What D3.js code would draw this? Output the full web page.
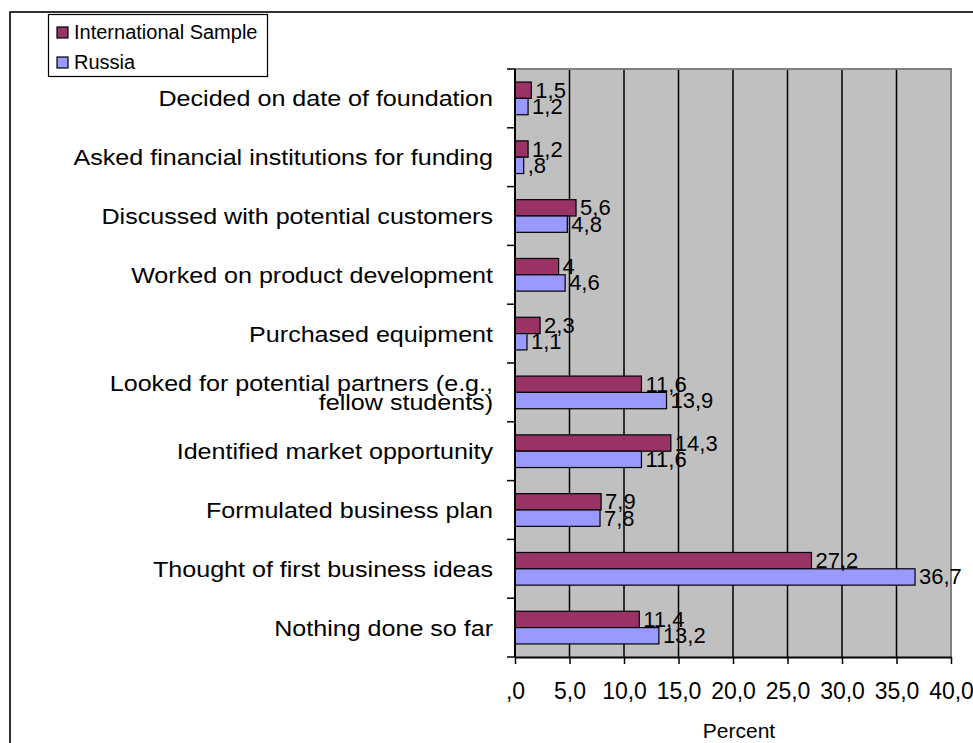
<!DOCTYPE html>
<html>
<head>
<meta charset="utf-8">
<script src="https://cdn.jsdelivr.net/npm/d3@7"></script>
<style>
  body { margin: 0; background: #fff; }
  svg { display: block; font-family: "Liberation Sans", Arial, sans-serif; }
</style>
</head>
<body>
<svg id="chart"></svg>
<script>
//DATA (top to bottom as shown)
const categories = [
  ['Decided on date of foundation'],
  ['Asked financial institutions for funding'],
  ['Discussed with potential customers'],
  ['Worked on product development'],
  ['Purchased equipment'],
  ['Looked for potential partners (e.g.,', 'fellow students)'],
  ['Identified market opportunity'],
  ['Formulated business plan'],
  ['Thought of first business ideas'],
  ['Nothing done so far']
];
const seriesNames = ['International Sample', 'Russia'];
const international = [1.5, 1.2, 5.6, 4, 2.3, 11.6, 14.3, 7.9, 27.2, 11.4];
const russia = [1.2, 0.8, 4.8, 4.6, 1.1, 13.9, 11.6, 7.8, 36.7, 13.2];
const xTicks = [0, 5, 10, 15, 20, 25, 30, 35, 40];
const colors = ['#993366', '#9999ff'];

// comma decimals, leading zero dropped like the original (",8", ",0")
function commaFmt(v, fixed) {
  let s = fixed ? v.toFixed(1) : String(v);
  return s.replace('.', ',').replace(/^0,/, ',');
}

function makeChart() {
  let w = 973;
  let h = 743;

  let margin = {left: 515, right: 22, top: 69, bottom: 86};

  let svg = d3.select('#chart')
    .attr('width', w)
    .attr('height', h);

  //outer frame, right and bottom sides fall outside the picture
  svg.append('rect')
    .attr('x', 10).attr('y', 12)
    .attr('width', 1100).attr('height', 900)
    .attr('fill', 'none')
    .attr('stroke', '#000')
    .attr('stroke-width', 1.6);

  let xScale = d3.scaleLinear()
    .domain([0, 40])
    .range([margin.left, w - margin.right]);

  let ids = categories.map((d, i) => i);
  let yScale = d3.scaleBand()
    .domain(ids)
    .range([margin.top, h - margin.bottom]);

  // two bars inside each band
  let ySub = d3.scaleBand()
    .domain([0, 1])
    .range([0, yScale.bandwidth()])
    .paddingInner(0)
    .paddingOuter(0.8);

  let x0 = xScale(0), x1 = xScale(40);
  let y0 = yScale.range()[0], y1 = yScale.range()[1];

  // plot background
  svg.append('rect')
    .attr('x', x0).attr('y', y0)
    .attr('width', x1 - x0).attr('height', y1 - y0)
    .attr('fill', '#c0c0c0');

  // gridlines
  svg.append('g')
    .selectAll('line')
    .data(xTicks.filter((t) => t > 0 && t < 40))
    .enter()
    .append('line')
    .attr('x1', (d) => xScale(d)).attr('x2', (d) => xScale(d))
    .attr('y1', y0).attr('y2', y1)
    .attr('stroke', '#000')
    .attr('stroke-width', 1.5);

  // top & right border of plot (grey)
  svg.append('path')
    .attr('d', `M${x0},${y0}H${x1}V${y1}`)
    .attr('fill', 'none')
    .attr('stroke', '#808080')
    .attr('stroke-width', 2);

  // BARS
  let data = [];
  ids.forEach((i) => {
    data.push({cat: i, s: 0, v: international[i]});
    data.push({cat: i, s: 1, v: russia[i]});
  });

  svg.append('g')
    .selectAll('rect')
    .data(data)
    .enter()
    .append('rect')
    .attr('x', x0)
    .attr('y', (d) => yScale(d.cat) + ySub(d.s))
    .attr('width', (d) => xScale(d.v) - x0)
    .attr('height', ySub.bandwidth())
    .attr('fill', (d) => colors[d.s])
    .attr('stroke', '#000')
    .attr('stroke-width', 1.2);

  // value labels
  svg.append('g')
    .selectAll('text')
    .data(data)
    .enter()
    .append('text')
    .attr('x', (d) => xScale(d.v) + 4)
    .attr('y', (d) => yScale(d.cat) + ySub(d.s) + ySub.bandwidth() / 2 + 7.5)
    .style('font-size', '22px')
    .attr('fill', '#000')
    .text((d) => commaFmt(d.v, false));

  // AXES
  let xAxis = d3.axisBottom(xScale)
    .tickValues(xTicks)
    .tickSize(7)
    .tickSizeOuter(0)
    .tickFormat((d) => commaFmt(d, true));

  let gx = svg.append('g')
    .attr('transform', `translate(0, ${y1})`)
    .call(xAxis);
  gx.select('.domain').attr('stroke', '#000').attr('stroke-width', 2);
  gx.selectAll('.tick line').attr('stroke', '#000').attr('stroke-width', 1.5);
  gx.selectAll('.tick text')
    .attr('y', 26)
    .attr('dy', '0.71em')
    .style('font-size', '23px')
    .attr('fill', '#000')
    .style('font-family', '"Liberation Sans", Arial, sans-serif');

  // left axis, ticks on category boundaries
  let bounds = ids.map((i) => yScale(i)).concat([y1]);
  svg.append('line')
    .attr('x1', x0).attr('x2', x0)
    .attr('y1', y0).attr('y2', y1)
    .attr('stroke', '#000').attr('stroke-width', 2);
  svg.append('g')
    .selectAll('line')
    .data(bounds)
    .enter()
    .append('line')
    .attr('x1', x0 - 8).attr('x2', x0)
    .attr('y1', (d) => d).attr('y2', (d) => d)
    .attr('stroke', '#000').attr('stroke-width', 1.5);

  // category labels (slightly wide lettering, like the source)
  let lineH = 19;
  let cats = svg.append('g')
    .selectAll('g')
    .data(categories)
    .enter()
    .append('g')
    .attr('transform', (d, i) => {
      let cy = yScale(i) + yScale.bandwidth() / 2;
      return `translate(${x0 - 22}, ${cy + 8 - (d.length - 1) * lineH / 2}) scale(1.14, 1)`;
    });
  cats.each(function (d) {
    let t = d3.select(this).append('text')
      .attr('text-anchor', 'end')
      .style('font-size', '22px')
      .attr('fill', '#000');
    d.forEach((line, k) => {
      t.append('tspan')
        .attr('x', 0)
        .attr('y', k * lineH)
        .text(line);
    });
  });

  // axis title
  svg.append('text')
    .attr('x', 739)
    .attr('y', 738)
    .attr('text-anchor', 'middle')
    .style('font-size', '21px')
    .text('Percent');

  // LEGEND
  let legend = svg.append('g');
  legend.append('rect')
    .attr('x', 48.5).attr('y', 14.5)
    .attr('width', 219).attr('height', 62)
    .attr('fill', '#fff')
    .attr('stroke', '#000')
    .attr('stroke-width', 1.2);

  let items = legend.selectAll('g.item')
    .data(seriesNames)
    .enter()
    .append('g')
    .attr('class', 'item')
    .attr('transform', (d, i) => `translate(57, ${27 + i * 30})`);
  items.append('rect')
    .attr('width', 11).attr('height', 11)
    .attr('fill', (d, i) => colors[i])
    .attr('stroke', '#000')
    .attr('stroke-width', 1.2);
  items.append('text')
    .attr('x', 17)
    .attr('y', 12)
    .style('font-size', '20px')
    .text((d) => d);
}

window.onload = function () {
  makeChart();
}
</script>
</body>
</html>
